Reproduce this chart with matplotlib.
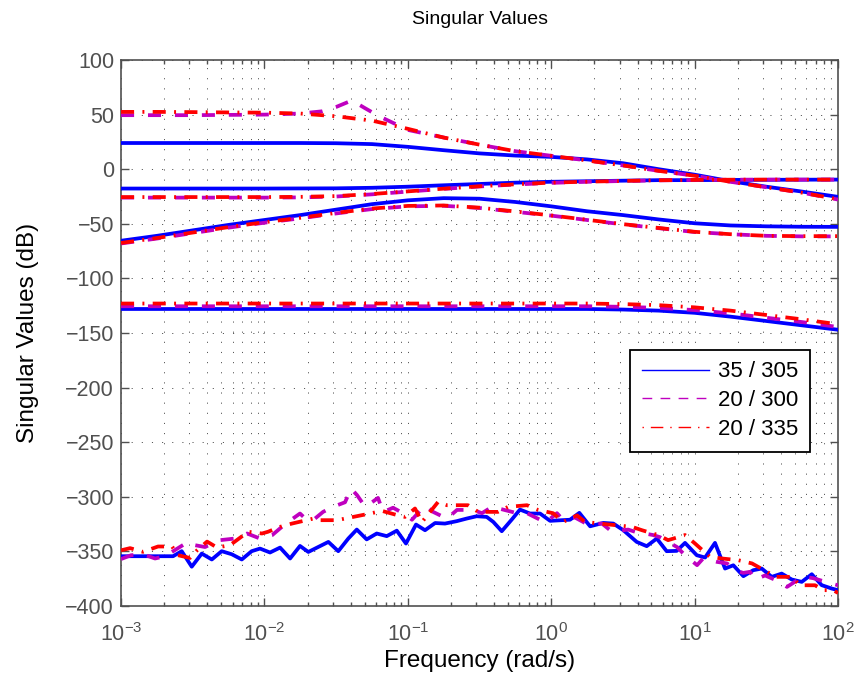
import numpy as np
import matplotlib
matplotlib.use("Agg")
import matplotlib.pyplot as plt
from matplotlib.lines import Line2D
from matplotlib.ticker import LogLocator, MultipleLocator, NullFormatter

plt.rcParams['font.family'] = ['Liberation Sans', 'DejaVu Sans']
plt.rcParams['mathtext.default'] = 'regular'
plt.rcParams['lines.scale_dashes'] = False

# frequency grid (log10 rad/s) for the smooth singular values
log_w = [-3.0, -2.75, -2.5, -2.25, -2.0, -1.75, -1.5, -1.25, -1.0, -0.75, -0.5,
         -0.25, 0.0, 0.25, 0.5, 0.75, 1.0, 1.25, 1.5, 1.75, 2.0]

# 35 / 305
sv1_a = [24, 24, 24, 24, 24, 24, 23.8, 23, 20.5, 17.4, 14.5, 12.5, 11.3, 9, 5.5, 0,
         -5, -11, -16, -20.5, -25.3]
sv2_a = [-17.7, -17.7, -17.7, -17.7, -17.7, -17.6, -17.5, -17, -16, -14.7, -13.5,
         -12.3, -11.5, -11, -10.5, -10, -10, -9.8, -9.7, -9.6, -9.5]
sv3_a = [-65.5, -61, -56, -51, -46.5, -42, -37, -32, -28.5, -26.5, -27, -30, -34,
         -38.5, -42, -46, -49.5, -51.5, -52.3, -52.7, -52.8]
sv4_a = [-128, -128, -128, -128, -128, -128, -128, -128, -128, -128, -128, -128,
         -128, -128, -128.5, -129.5, -131.5, -135, -139, -143, -147]

# 20 / 300  (top one has its own grid around the resonance)
log_w_top_b = [-3.0, -2.5, -2.0, -1.75, -1.6, -1.5, -1.39, -1.3, -1.2, -1.0, -0.75,
               -0.5, -0.25, 0.0, 0.25, 0.5, 0.75, 1.0, 1.25, 1.5, 1.75, 2.0]
sv1_b = [49.5, 49.5, 50, 51, 53, 57, 63, 56, 48.5, 36, 29, 22.5, 16.5, 12.3, 8, 3.5,
         -1.5, -6, -11.5, -16.5, -21.5, -27.8]
sv2_b = [-26, -26, -26, -26, -26, -25.8, -25, -23, -20.5, -18, -15.8, -14, -12.5,
         -11.5, -10.8, -10.2, -9.8, -9.6, -9.5, -9.5, -9.5]
sv3_b = [-68, -63.5, -58.5, -53.5, -49, -45, -40.5, -36.5, -34, -33.5, -35.5, -39,
         -42.5, -46.5, -50.5, -54, -57.5, -59.5, -61, -61.5, -61.5]
sv4_b = [-125.5, -125.5, -125.5, -125.5, -125.5, -125.5, -125.5, -125.5, -125.5,
         -125.5, -125.5, -125.5, -125.5, -125.5, -126, -127, -129, -132, -136, -140,
         -144.5]

# 20 / 335
sv1_c = [52.5, 52.5, 52.3, 52, 51.8, 51, 48.5, 44.5, 37, 29, 22.5, 16.5, 12.3, 8, 3.5,
         -1.5, -6, -11.5, -16.5, -21.5, -27.5]
sv2_c = [-25.5, -25.5, -25.5, -25.5, -25.5, -25.3, -24.6, -22.7, -20.3, -17.8, -15.6,
         -13.8, -12.3, -11.4, -10.7, -10.1, -9.8, -9.6, -9.5, -9.5, -9.5]
sv3_c = [-67.5, -63, -58, -53, -48.5, -44.5, -40, -36, -33.6, -33.2, -35.2, -38.7,
         -42.3, -46.3, -50.3, -53.8, -57.3, -59.5, -61, -61.3, -61.3]
sv4_c = [-123, -123, -123, -123, -123, -123, -123, -123, -123, -123, -123, -123, -123,
         -123, -123.5, -124.5, -126.5, -129.5, -133.5, -137.5, -142]

# smallest singular values (numerical noise floor)
log_w_low_a = [-3.0, -2.637, -2.577, -2.507, -2.437, -2.367, -2.298, -2.228, -2.158,
               -2.089, -2.031, -1.961, -1.891, -1.821, -1.752, -1.694, -1.624, -1.554,
               -1.485, -1.415, -1.356, -1.287, -1.217, -1.147, -1.077, -1.013, -0.943,
               -0.880, -0.810, -0.741, -0.659, -0.589, -0.520, -0.450, -0.404, -0.345,
               -0.275, -0.218, -0.148, -0.078, -0.008, 0.061, 0.131, 0.196, 0.271,
               0.363, 0.433, 0.503, 0.596, 0.666, 0.736, 0.805, 0.875, 0.933, 1.015,
               1.073, 1.142, 1.212, 1.270, 1.340, 1.409, 1.468, 1.538, 1.607, 1.677,
               1.747, 1.817, 1.886, 1.956, 2.0]
sv5_a = [-354.4, -354.4, -349.8, -364, -352, -357.4, -349.8, -352.6, -357.4, -349.8,
         -347.4, -351, -346.5, -356.5, -345, -350.5, -345.9, -341.3, -349.8, -338.2,
         -330, -339, -333.6, -336, -331, -342.8, -325.4, -330.6, -324, -324.5,
         -322.3, -319.9, -317.8, -318.4, -323, -331.5, -320.8, -311.7, -315.3, -315.3,
         -322, -321.5, -321, -314.7, -327, -323.9, -324.5, -330.6, -341.3, -345.2,
         -338.2, -349.8, -349.5, -342.2, -353.5, -355.6, -342.2, -365.7, -362.7, -372.7,
         -367.2, -365.7, -373.3, -370.3, -375.7, -377.9, -370.9, -380.9, -384, -385.5]

log_w_low_b = [-3.0, -2.930, -2.847, -2.763, -2.693, -2.644, -2.533, -2.484, -2.414,
               -2.365, -2.310, -2.205, -2.121, -2.031, -1.947, -1.856, -1.752, -1.703,
               -1.661, -1.591, -1.522, -1.438, -1.396, -1.354, -1.298, -1.278, -1.208,
               -1.173, -1.103, -1.006, -0.971, -0.880, -0.824, -0.727, -0.657, -0.545,
               -0.483, -0.406, -0.357, -0.238, -0.169, -0.078, -0.043, 0.040, 0.075,
               0.166, 0.250, 0.354, 0.424, 0.536, 0.584, 0.710, 0.759, 0.877, 0.933,
               1.017, 1.059, 1.156, 1.226, 1.282, 1.338, 1.386, 1.421, 1.491, 1.596,
               1.644, 1.756, 1.826, 1.944, 2.0]
sv5_b = [-357, -353.5, -352.6, -356.5, -354.4, -350.4, -341.3, -344.3, -346, -342.8,
         -339.7, -338.2, -333.6, -338.2, -335.2, -325, -315.3, -321.4, -321.4, -313.8,
         -309.2, -305, -292.4, -298.5, -309, -307.7, -301, -314, -310, -317,
         -321, -307.7, -313.8, -320, -312, -312, -315, -308.6, -311, -315,
         -315, -321, -324, -315, -320, -319, -325, -324.5, -332, -330,
         -332, -335, -337, -346, -353.5, -362.6, -356.5, -359.6, -361, -367,
         -369.7, -368.7, -376, -372, -378, -382.5, -373, -374.5, -379, -381]

log_w_low_c = [-3.0, -2.937, -2.847, -2.742, -2.644, -2.603, -2.519, -2.470, -2.400,
               -2.331, -2.240, -2.114, -2.017, -1.975, -1.891, -1.808, -1.661, -1.612,
               -1.494, -1.403, -1.264, -1.180, -1.068, -1.020, -0.950, -0.901, -0.789,
               -0.727, -0.580, -0.510, -0.371, -0.301, -0.169, -0.092, 0.013, 0.082,
               0.180, 0.236, 0.375, 0.563, 0.633, 0.745, 0.815, 0.933, 1.003, 1.107,
               1.191, 1.303, 1.400, 1.505, 1.561, 1.679, 1.735, 1.840, 1.895, 1.965, 2.0]
sv5_c = [-349, -347, -350.4, -345.5, -345.5, -353.5, -356, -349, -341, -346.4,
         -344.3, -332, -333.6, -332, -327.5, -324.5, -320, -321.4, -321.4, -319,
         -315.3, -312.9, -317, -318.4, -310.7, -323, -304.7, -307.7, -307.7, -313.8,
         -313.8, -309.2, -307.7, -312, -315, -323, -317, -323, -325, -327.5,
         -330.6, -335, -339.7, -335, -342.8, -355, -356.5, -358, -361, -368.7,
         -373.3, -373.3, -381, -381, -385.5, -385.5, -388]

labels = ['35 / 305', '20 / 300', '20 / 335']
colors = ['#0000ff', '#bf00bf', '#ff0000']

fig = plt.figure(figsize=(8.56, 6.79), dpi=100)
ax = fig.add_axes([0.1414, 0.1075, 0.8376, 0.8041])

lw = 2.7
dash_b = (9.4, 10.0)
dash_c = (9.4, 6.0, 1.4, 6.0)


def freq(lw_list):
    return 10.0 ** np.asarray(lw_list)


for y in [sv1_a, sv2_a, sv3_a, sv4_a]:
    ax.plot(freq(log_w), y, color=colors[0], lw=lw, zorder=3)
ax.plot(freq(log_w_low_a), sv5_a, color=colors[0], lw=lw, zorder=3)

ax.plot(freq(log_w_top_b), sv1_b, color=colors[1], lw=lw, dashes=dash_b, zorder=4)
for y in [sv2_b, sv3_b, sv4_b]:
    ax.plot(freq(log_w), y, color=colors[1], lw=lw, dashes=dash_b, zorder=4)
ax.plot(freq(log_w_low_b), sv5_b, color=colors[1], lw=lw, dashes=dash_b, zorder=4)

for y in [sv1_c, sv2_c, sv3_c, sv4_c]:
    ax.plot(freq(log_w), y, color=colors[2], lw=lw, dashes=dash_c, zorder=5)
ax.plot(freq(log_w_low_c), sv5_c, color=colors[2], lw=lw, dashes=dash_c, zorder=5)

ax.set_xscale('log')
ax.set_xlim(1e-3, 1e2)
ax.set_ylim(-400, 100)
ax.yaxis.set_major_locator(MultipleLocator(50))
ax.xaxis.set_major_locator(LogLocator(base=10, numticks=10))
ax.xaxis.set_minor_locator(LogLocator(base=10, subs=np.arange(2, 10), numticks=20))
ax.xaxis.set_minor_formatter(NullFormatter())

grid_kw = dict(color='#555555', linestyle=(0, (0.8, 6.5)), linewidth=0.7)
ax.grid(True, which='major', axis='both', **grid_kw)
ax.grid(True, which='minor', axis='x', **grid_kw)
ax.set_axisbelow(True)

axis_gray = '#505050'
for s in ax.spines.values():
    s.set_color(axis_gray)
    s.set_linewidth(1.2)
ax.tick_params(which='both', direction='in', top=True, right=True, colors=axis_gray,
               labelsize=15.5, width=1.0)
ax.tick_params(which='major', length=6)
ax.tick_params(which='minor', length=3)
ax.tick_params(axis='x', which='major', pad=12)
ax.tick_params(axis='y', which='major', pad=5)
for t in ax.get_xticklabels() + ax.get_yticklabels():
    t.set_color(axis_gray)

ax.set_title('Singular Values', fontsize=14, pad=26)
ax.set_xlabel('Frequency (rad/s)', fontsize=17.5, labelpad=3)
ax.set_ylabel('Singular Values (dB)', fontsize=17.5, labelpad=19)

handles = [
    Line2D([], [], color=colors[0], lw=1.0),
    Line2D([], [], color=colors[1], lw=1.0, dashes=(7, 6)),
    Line2D([], [], color=colors[2], lw=1.0, dashes=(1, 5, 9, 5)),
]
leg = ax.legend(handles, labels, loc='upper left', bbox_to_anchor=(0.71, 0.469),
                borderaxespad=0, fontsize=16, handlelength=3.05, handletextpad=0.4,
                labelspacing=0.35, borderpad=0.52, fancybox=False, framealpha=1,
                edgecolor='black')
leg.get_frame().set_linewidth(1.3)

fig.savefig('out.png', dpi=100)
